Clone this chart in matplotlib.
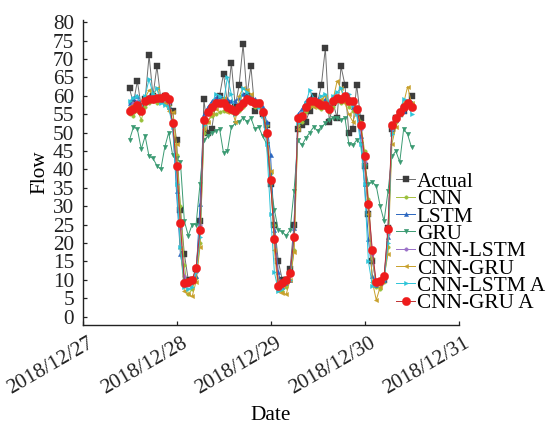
import matplotlib
matplotlib.use("Agg")
import matplotlib.pyplot as plt
import matplotlib.dates as mdates
import matplotlib.transforms as mtransforms
import pandas as pd

plt.rcParams['font.family'] = ['Liberation Serif', 'DejaVu Serif']

# hourly timestamps 2018/12/27 12:00 -> 2018/12/30 12:00
times = pd.date_range('2018-12-27 12:00', periods=73, freq='h')

actual = [62, 58, 64, 57, 59, 71, 60, 68, 59, 60, 58, 56,
          48, 29, 17, 10, 10, 13, 26,
          59, 50, 51, 58, 60, 66, 58, 69, 57, 63, 74, 60, 68, 56, 58, 55,
          52, 36, 25, 15, 10, 10, 13, 25,
          51, 52, 53, 56, 60, 58, 63, 73, 53, 58, 54, 68, 63, 50, 51, 63,
          54, 41, 28, 15, 9, 9, 10, 24,
          51, 54, 55, 56, 58, 60]

cnn = [55, 54.5, 56, 53.5, 57, 58, 58.5, 58, 59, 59.5, 57.5, 53,
       44, 30, 14, 6, 7.5, 10.5, 20,
       50, 53, 54.5, 55, 55.5, 56, 56, 55.5, 55, 56, 57, 58.5, 58, 57, 57.5, 56,
       52, 39, 25, 10, 7, 8, 10, 18,
       52, 53, 55.5, 57, 57.5, 57, 56.5, 57, 55.5, 57, 58.5, 58, 58.5, 57, 56, 56.5,
       53, 45, 32, 16, 8, 7.5, 9.5, 19,
       50, 53, 55, 56.5, 57.5, 58]

lstm = [58, 59.5, 60, 57.5, 59, 60, 60, 59, 58.5, 58, 57, 53,
        34, 17, 10.5, 9, 10, 11, 30.5,
        55, 57, 58.5, 59.5, 60, 59.5, 59, 58.5, 58.5, 59.5, 60.5, 60, 60, 59, 57.5, 57,
        53, 44, 23.5, 12, 8, 9, 10, 24,
        55, 56.5, 58.5, 59.5, 59, 59, 58.5, 59, 58, 59, 59.5, 59.5, 60, 59.5, 57, 55.5,
        49, 36, 21, 11, 8.5, 9, 10, 21.5,
        51, 53.5, 55, 56, 57.5, 58]

gru = [48, 51.5, 51, 45.5, 49, 43.5, 43, 41, 40, 46, 50, 44,
       43, 42, 26, 22, 25, 25, 36,
       48, 49, 50, 50.5, 51, 44.5, 45, 51.5, 52.5, 53, 54, 53, 54, 51, 51.5, 49,
       47, 36, 29, 23.5, 23, 22, 23.5, 34,
       48, 46.5, 48.5, 50, 51.5, 50.5, 51.5, 52.5, 53.5, 54, 54, 53.5, 54, 47, 46.5, 48,
       47, 41, 36, 36.5, 35.5, 30, 26, 34,
       43.5, 45, 42, 51, 49.5, 46]

cnn_lstm = [57, 58, 58.5, 57, 58.5, 59.5, 59.5, 59, 59, 59.5, 58, 52,
            40, 24, 11, 8.5, 9.5, 12, 25,
            54, 56, 57.5, 58, 58.5, 58.5, 57.5, 57, 56.5, 57.5, 58.5, 59.5, 59, 58, 57.5, 55,
            50, 37, 22, 9.5, 8.5, 9.5, 11.5, 22,
            53.5, 55, 57, 58, 58.5, 58, 57.5, 57.5, 56.5, 58, 59, 59, 59.5, 58.5, 58, 56,
            51, 42, 30, 17, 9, 9, 10.5, 22.5,
            51, 53.5, 55, 56.5, 57.5, 57.5]

cnn_gru = [57, 57.5, 56.5, 57, 59.5, 61.5, 60, 62, 59.5, 58, 56, 55.5,
           47, 18.5, 7, 6, 5.5, 9.5, 19,
           51, 53, 55, 56.5, 58.5, 59.5, 55.5, 57, 53, 60, 62, 61.5, 60.5, 58, 57, 55,
           50, 39.5, 18, 7, 6.5, 6, 10, 17.5,
           51, 54, 56.5, 57.5, 57, 57, 59, 60, 57, 59, 64, 62, 58, 55, 53, 56,
           52, 44, 28, 9.5, 4.5, 8, 11, 17,
           47, 51.5, 55, 58, 62.5, 58]

cnn_lstm_a = [58.5, 59.5, 60, 56, 60, 64.5, 60.5, 62, 58, 57.5, 57, 51.5,
              36, 19, 8, 7.5, 8, 12, 21.5,
              52, 56, 57.5, 60.5, 60, 58, 65, 60.5, 55, 57.5, 62, 61, 59, 58, 57, 54.5,
              47, 28, 12, 7, 7.5, 9, 10, 22,
              52.5, 55, 58, 61.5, 59.5, 58.5, 60, 60.5, 58, 60, 61, 62, 59.5, 60.5, 57.5, 55,
              47, 36, 15, 8.3, 8.5, 9, 10, 20,
              49.5, 53.5, 56, 59, 58.5, 55]

cnn_gru_a = [56, 56.5, 57.5, 56, 58.5, 59, 59, 59.5, 59.5, 60, 59, 52.5,
             41, 25.5, 9, 9.5, 10, 13.3, 23.5,
             53.5, 55.5, 57, 58, 58, 58, 57, 56.5, 56, 57, 58, 59, 58.5, 58, 58, 55.5,
             50, 37, 21, 8.3, 9, 10, 11.7, 21.5,
             54, 54.5, 57, 58.5, 58.5, 58, 57.5, 57.5, 56.5, 58.5, 59.5, 59, 60, 58.5, 58.5, 56.5,
             52, 43.5, 30.5, 18, 9.3, 9.6, 11, 23.8,
             52, 54, 55.5, 57, 58, 57]

labels = ['Actual', 'CNN', 'LSTM', 'GRU', 'CNN-LSTM', 'CNN-GRU', 'CNN-LSTM A', 'CNN-GRU A']
series = [actual, cnn, lstm, gru, cnn_lstm, cnn_gru, cnn_lstm_a, cnn_gru_a]
line_colors = ['#6e6e6e', '#a8c040', '#2a66c0', '#3a9a72', '#9a70c8', '#c8a02a', '#2cc4d8', '#c03030']
marker_colors = ['#3c3c3c', '#98c03a', '#2a66c0', '#3a9a72', '#9a70c8', '#c8a02a', '#2cc4d8', '#ee1c1c']
markers = ['s', 'o', '^', 'v', 'o', '<', '>', 'o']
msizes = [4.5, 2.5, 3.0, 3.2, 2.5, 3.0, 3.0, 6.0]

FS = 15.3

fig = plt.figure(figsize=(5.47, 4.24), dpi=100)
ax = fig.add_axes([82.5 / 547, 1 - 325 / 424, 376 / 547, 305 / 424])

for lab, ys, lc, mc, mk, ms in zip(labels, series, line_colors, marker_colors, markers, msizes):
    ax.plot(times, ys, color=lc, lw=0.7, marker=mk, markersize=ms,
            markerfacecolor=mc, markeredgecolor=mc, markeredgewidth=0.3, label=lab)

ax.set_xlim(pd.Timestamp('2018-12-27'), pd.Timestamp('2018-12-31'))
ax.set_ylim(-2.3, 80.6)
ax.set_yticks(range(0, 81, 5))
ax.xaxis.set_major_locator(mdates.DayLocator())
ax.xaxis.set_major_formatter(mdates.DateFormatter('%Y/%m/%d'))

for s in ['top', 'right']:
    ax.spines[s].set_visible(False)
for s in ['left', 'bottom']:
    ax.spines[s].set_linewidth(1.0)
    ax.spines[s].set_color('#222222')

ax.tick_params(axis='both', direction='in', length=3, width=0.9, labelsize=FS, colors='#222222')
ax.tick_params(axis='y', pad=6)
ax.tick_params(axis='x', pad=6.5)

ax.set_xlabel('Date', fontsize=FS)
ax.xaxis.set_label_coords(0.5, -0.264)
ax.set_ylabel('Flow', fontsize=FS)
ax.yaxis.set_label_coords(-0.087, 0.5)

shift = mtransforms.ScaledTranslation(5 / 100, 0, fig.dpi_scale_trans)
for t in ax.get_xticklabels():
    t.set_rotation(30)
    t.set_rotation_mode('anchor')
    t.set_ha('right')
    t.set_va('top')
    t.set_transform(t.get_transform() + shift)

leg = ax.legend(loc='upper left', bbox_to_anchor=(396 / 547, 1 - 172 / 424),
                bbox_transform=fig.transFigure, frameon=False, fontsize=FS,
                labelspacing=-0.12, handlelength=0.9, handletextpad=0.08,
                borderpad=0, borderaxespad=0, numpoints=1)

fig.savefig('out.png', dpi=100)
